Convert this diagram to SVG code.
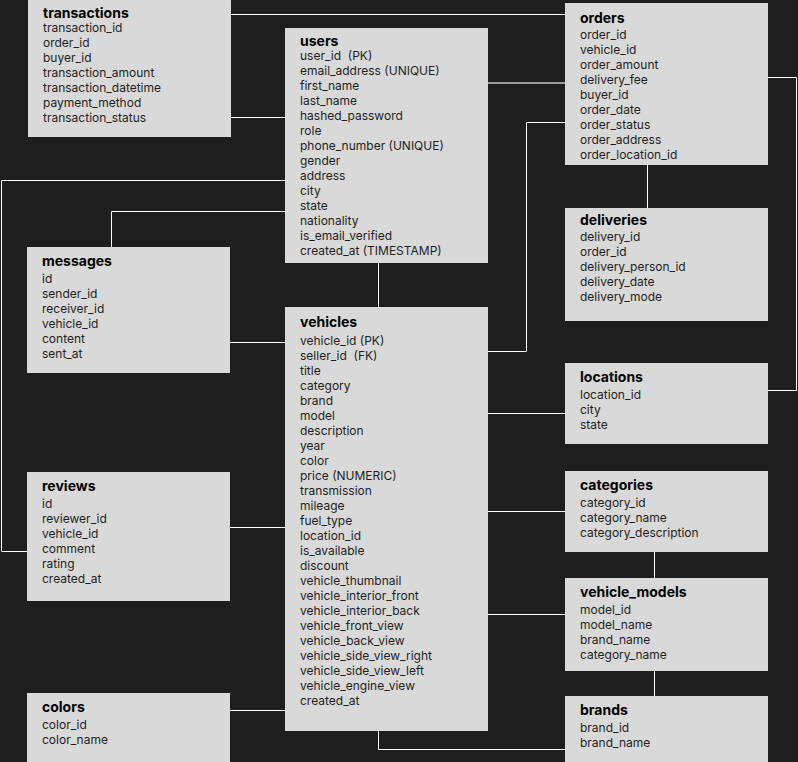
<svg xmlns="http://www.w3.org/2000/svg" width="798" height="762" viewBox="0 0 798 762">
  <style>
    .bg { fill: #1e1e1e; }
    .tbl { fill: #d9d9d9; }
    .title { font-family: Inter, "Liberation Sans", sans-serif; font-size: 14px; font-weight: 700; fill: #000; }
    .col { font-family: Inter, "Liberation Sans", sans-serif; font-size: 12px; fill: #1e1e1e; white-space: pre; }
    .link { fill: none; stroke: #ffffff; stroke-width: 1; }
    .link-soft { fill: none; stroke: #9a9a9a; stroke-width: 2; }
  </style>
  <rect class="bg" x="0" y="0" width="798" height="762"/>

  <!-- relationships -->
  <g id="connectors">
    <path class="link" d="M231 14.5 H565"/>
    <path class="link" d="M231 117.5 H285"/>
    <path class="link" d="M285 180.5 H1.5 V551.5 H27"/>
    <path class="link" d="M285 211.5 H111.5 V247"/>
    <path class="link" d="M230 342.5 H285"/>
    <path class="link" d="M230 527.5 H285"/>
    <path class="link" d="M230 710.5 H285"/>
    <path class="link" d="M378.5 263 V307"/>
    <path class="link-soft" d="M488 83 H565"/>
    <path class="link" d="M565 122.5 H526.5 V351.5 H488"/>
    <path class="link" d="M768 77.5 H796.5 V390.5 H768"/>
    <path class="link" d="M647.5 165 V208"/>
    <path class="link" d="M488 413.5 H565"/>
    <path class="link" d="M488 511.5 H565"/>
    <path class="link" d="M654.5 552 V578"/>
    <path class="link" d="M488 614.5 H565"/>
    <path class="link" d="M654.5 671 V696"/>
    <path class="link" d="M378.5 731 V749.5 H565"/>
  </g>

  <g id="transactions">
    <rect class="tbl" x="28" y="-1" width="203" height="138"/>
    <text class="title" x="43" y="18">transactions</text>
    <text class="col" x="43" y="32">transaction_id</text>
    <text class="col" x="43" y="47">order_id</text>
    <text class="col" x="43" y="62">buyer_id</text>
    <text class="col" x="43" y="77">transaction_amount</text>
    <text class="col" x="43" y="92">transaction_datetime</text>
    <text class="col" x="43" y="107">payment_method</text>
    <text class="col" x="43" y="122">transaction_status</text>
  </g>

  <g id="users">
    <rect class="tbl" x="285" y="28" width="203" height="235"/>
    <text class="title" x="300" y="46">users</text>
    <text class="col" x="300" y="60">user_id  (PK)</text>
    <text class="col" x="300" y="75">email_address (UNIQUE)</text>
    <text class="col" x="300" y="90">first_name</text>
    <text class="col" x="300" y="105">last_name</text>
    <text class="col" x="300" y="120">hashed_password</text>
    <text class="col" x="300" y="135">role</text>
    <text class="col" x="300" y="150">phone_number (UNIQUE)</text>
    <text class="col" x="300" y="165">gender</text>
    <text class="col" x="300" y="180">address</text>
    <text class="col" x="300" y="195">city</text>
    <text class="col" x="300" y="210">state</text>
    <text class="col" x="300" y="225">nationality</text>
    <text class="col" x="300" y="240">is_email_verified</text>
    <text class="col" x="300" y="255">created_at (TIMESTAMP)</text>
  </g>

  <g id="orders">
    <rect class="tbl" x="565" y="3" width="203" height="162"/>
    <text class="title" x="580" y="23">orders</text>
    <text class="col" x="580" y="39">order_id</text>
    <text class="col" x="580" y="54">vehicle_id</text>
    <text class="col" x="580" y="69">order_amount</text>
    <text class="col" x="580" y="84">delivery_fee</text>
    <text class="col" x="580" y="99">buyer_id</text>
    <text class="col" x="580" y="114">order_date</text>
    <text class="col" x="580" y="129">order_status</text>
    <text class="col" x="580" y="144">order_address</text>
    <text class="col" x="580" y="159">order_location_id</text>
  </g>

  <g id="deliveries">
    <rect class="tbl" x="565" y="208" width="203" height="113"/>
    <text class="title" x="580" y="225">deliveries</text>
    <text class="col" x="580" y="241">delivery_id</text>
    <text class="col" x="580" y="256">order_id</text>
    <text class="col" x="580" y="271">delivery_person_id</text>
    <text class="col" x="580" y="286">delivery_date</text>
    <text class="col" x="580" y="301">delivery_mode</text>
  </g>

  <g id="messages">
    <rect class="tbl" x="27" y="247" width="203" height="126"/>
    <text class="title" x="42" y="266">messages</text>
    <text class="col" x="42" y="283">id</text>
    <text class="col" x="42" y="298">sender_id</text>
    <text class="col" x="42" y="313">receiver_id</text>
    <text class="col" x="42" y="328">vehicle_id</text>
    <text class="col" x="42" y="343">content</text>
    <text class="col" x="42" y="358">sent_at</text>
  </g>

  <g id="vehicles">
    <rect class="tbl" x="285" y="307" width="203" height="424"/>
    <text class="title" x="300" y="327">vehicles</text>
    <text class="col" x="300" y="345">vehicle_id (PK)</text>
    <text class="col" x="300" y="360">seller_id  (FK)</text>
    <text class="col" x="300" y="375">title</text>
    <text class="col" x="300" y="390">category</text>
    <text class="col" x="300" y="405">brand</text>
    <text class="col" x="300" y="420">model</text>
    <text class="col" x="300" y="435">description</text>
    <text class="col" x="300" y="450">year</text>
    <text class="col" x="300" y="465">color</text>
    <text class="col" x="300" y="480">price (NUMERIC)</text>
    <text class="col" x="300" y="495">transmission</text>
    <text class="col" x="300" y="510">mileage</text>
    <text class="col" x="300" y="525">fuel_type</text>
    <text class="col" x="300" y="540">location_id</text>
    <text class="col" x="300" y="555">is_available</text>
    <text class="col" x="300" y="570">discount</text>
    <text class="col" x="300" y="585">vehicle_thumbnail</text>
    <text class="col" x="300" y="600">vehicle_interior_front</text>
    <text class="col" x="300" y="615">vehicle_interior_back</text>
    <text class="col" x="300" y="630">vehicle_front_view</text>
    <text class="col" x="300" y="645">vehicle_back_view</text>
    <text class="col" x="300" y="660">vehicle_side_view_right</text>
    <text class="col" x="300" y="675">vehicle_side_view_left</text>
    <text class="col" x="300" y="690">vehicle_engine_view</text>
    <text class="col" x="300" y="705">created_at</text>
  </g>

  <g id="locations">
    <rect class="tbl" x="565" y="363" width="203" height="81"/>
    <text class="title" x="580" y="382">locations</text>
    <text class="col" x="580" y="399">location_id</text>
    <text class="col" x="580" y="414">city</text>
    <text class="col" x="580" y="429">state</text>
  </g>

  <g id="reviews">
    <rect class="tbl" x="27" y="472" width="203" height="129"/>
    <text class="title" x="42" y="491">reviews</text>
    <text class="col" x="42" y="508">id</text>
    <text class="col" x="42" y="523">reviewer_id</text>
    <text class="col" x="42" y="538">vehicle_id</text>
    <text class="col" x="42" y="553">comment</text>
    <text class="col" x="42" y="568">rating</text>
    <text class="col" x="42" y="583">created_at</text>
  </g>

  <g id="categories">
    <rect class="tbl" x="565" y="471" width="203" height="81"/>
    <text class="title" x="580" y="490">categories</text>
    <text class="col" x="580" y="507">category_id</text>
    <text class="col" x="580" y="522">category_name</text>
    <text class="col" x="580" y="537">category_description</text>
  </g>

  <g id="vehicle_models">
    <rect class="tbl" x="565" y="578" width="203" height="93"/>
    <text class="title" x="580" y="597">vehicle_models</text>
    <text class="col" x="580" y="614">model_id</text>
    <text class="col" x="580" y="629">model_name</text>
    <text class="col" x="580" y="644">brand_name</text>
    <text class="col" x="580" y="659">category_name</text>
  </g>

  <g id="colors">
    <rect class="tbl" x="27" y="693" width="203" height="70"/>
    <text class="title" x="42" y="712">colors</text>
    <text class="col" x="42" y="729">color_id</text>
    <text class="col" x="42" y="744">color_name</text>
  </g>

  <g id="brands">
    <rect class="tbl" x="565" y="696" width="203" height="67"/>
    <text class="title" x="580" y="715">brands</text>
    <text class="col" x="580" y="732">brand_id</text>
    <text class="col" x="580" y="747">brand_name</text>
  </g>
</svg>
